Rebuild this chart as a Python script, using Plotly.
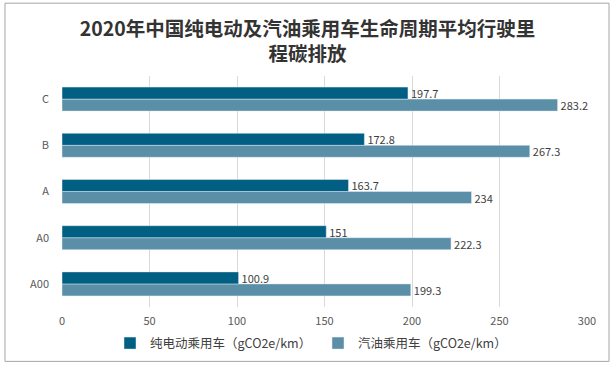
import plotly.graph_objects as go

categories = ["A00", "A0", "A", "B", "C"]
ev_values = [100.9, 151, 163.7, 172.8, 197.7]
gas_values = [199.3, 222.3, 234, 267.3, 283.2]
ev_name = "纯电动乘用车（gCO2e/km）"
gas_name = "汽油乘用车（gCO2e/km）"
title_text = "2020年中国纯电动及汽油乘用车生命周期平均行驶里<br>程碳排放"

font_family = "Noto Sans CJK SC, Noto Sans, sans-serif"

fig = go.Figure()
fig.add_trace(go.Bar(
    y=categories, x=gas_values, name=gas_name, orientation="h",
    marker_color="#5B8FA8", text=[f"{v:g}" for v in gas_values],
    textposition="outside", legendrank=2, constraintext="none",
    textfont=dict(size=11, color="#404040"), cliponaxis=False,
))
fig.add_trace(go.Bar(
    y=categories, x=ev_values, name=ev_name, orientation="h",
    marker_color="#005F82", text=[f"{v:g}" for v in ev_values],
    textposition="outside", legendrank=1, constraintext="none",
    textfont=dict(size=11, color="#404040"), cliponaxis=False,
))

fig.update_layout(
    width=615, height=367,
    margin=dict(l=62, r=28, t=76, b=60, autoexpand=False),
    paper_bgcolor="white", plot_bgcolor="white",
    font=dict(family=font_family, color="#595959", size=11),
    barmode="group", bargap=0.48, bargroupgap=0,
    title=dict(text=title_text, x=0.5, xanchor="center", yref="container",
               y=1 - 35.5 / 367, yanchor="middle",
               font=dict(size=19.5, color="#333333", family=font_family, weight="bold")),
    xaxis=dict(range=[0, 300], dtick=50, showgrid=True, gridcolor="#D9D9D9",
               zeroline=False, showline=False, ticks="", automargin=False,
               ticklabelstandoff=6, tickfont=dict(size=11, color="#595959")),
    yaxis=dict(showgrid=False, showline=False, ticks="", ticklabelstandoff=12,
               automargin=False, tickfont=dict(size=11, color="#595959")),
    legend=dict(orientation="h", x=(110 - 62) / 525, xanchor="left", y=-0.093, yanchor="top",
                font=dict(size=12.5, color="#404040"), itemwidth=30, entrywidth=163),
    showlegend=True,
)
fig.add_shape(type="rect", xref="paper", yref="paper",
              x0=-0.1086, x1=1.0419, y0=-0.2354, y1=1.3153,
              line=dict(color="#A6A6A6", width=1), fillcolor="rgba(0,0,0,0)", layer="below")

fig.write_html("out.html", config={"displayModeBar": False},
               post_script="document.body.style.margin='0';")
